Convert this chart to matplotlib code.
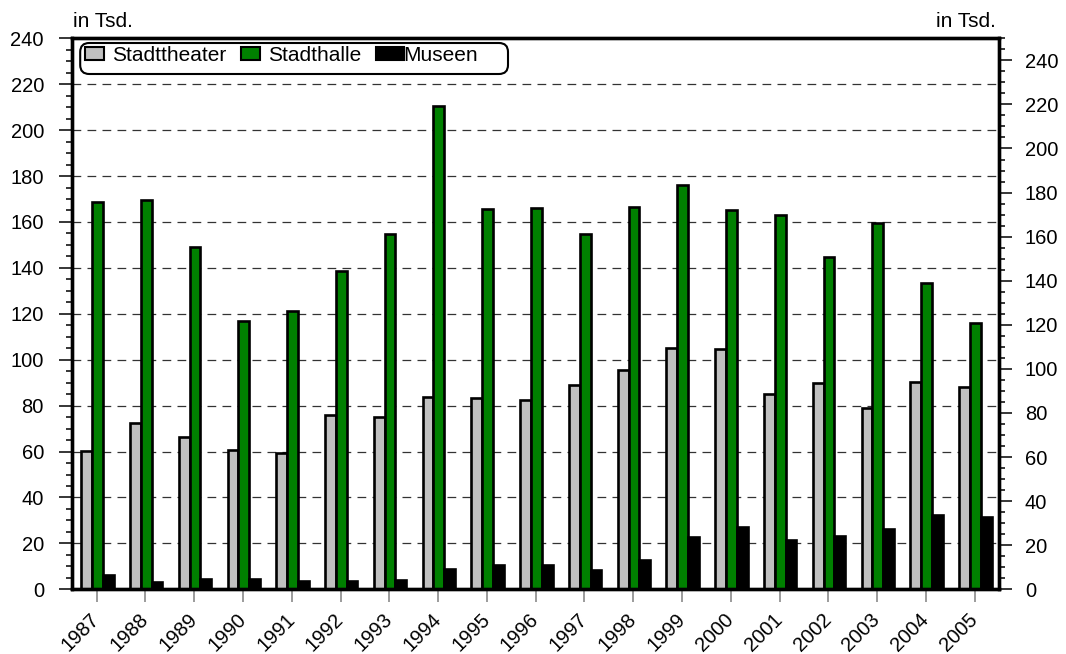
import matplotlib
matplotlib.use("Agg")
import matplotlib.pyplot as plt
import matplotlib.transforms as mtransforms
from matplotlib.patches import FancyBboxPatch, Patch, Rectangle
from matplotlib.legend_handler import HandlerPatch
from matplotlib.ticker import MultipleLocator, FixedLocator
import numpy as np

# Besucher in Tausend
years = [str(y) for y in range(1987, 2006)]
stadttheater = [60.3, 72.3, 66.2, 60.5, 59.2, 75.8, 74.9, 83.6, 83.3, 82.3,
                89.0, 95.7, 105.2, 104.6, 85.2, 89.7, 79.1, 90.3, 88.2]
stadthalle = [168.8, 169.4, 149.3, 116.8, 121.3, 138.8, 154.9, 210.7, 165.5, 166.1,
              154.6, 166.4, 175.9, 165.2, 163.0, 144.9, 159.7, 133.3, 116.1]
museen = [6.2, 3.3, 4.6, 4.3, 3.6, 3.5, 4.1, 9.0, 10.6, 10.6,
          8.4, 12.8, 22.9, 27.0, 21.6, 23.0, 26.4, 32.2, 31.6]
series_names = ["Stadttheater", "Stadthalle", "Museen"]
series_colors = ["#c0c0c0", "#008000", "#000000"]

plt.rcParams["font.family"] = ["Liberation Sans", "DejaVu Sans"]

W, H = 1066, 654
fig = plt.figure(figsize=(W / 100, H / 100), dpi=100)
left_px, right_px, top_px, bottom_px = 72.3, 999.0, 38.3, 589.3
ax = fig.add_axes([left_px / W, 1 - bottom_px / H,
                   (right_px - left_px) / W, (bottom_px - top_px) / H])

x = np.arange(len(years))
bar_w = 0.2215
shift = 0.015
edge_lw = 1.9
for i, (vals, col, name) in enumerate(zip([stadttheater, stadthalle, museen],
                                          series_colors, series_names)):
    ax.bar(x + (i - 1) * bar_w + shift, vals, width=bar_w, color=col,
           edgecolor="black", linewidth=edge_lw, label=name, zorder=2)

ax.set_xlim(-0.5, len(years) - 0.5)
ax.set_ylim(0, 240)
ax.yaxis.set_major_locator(MultipleLocator(20))
ax.yaxis.set_minor_locator(MultipleLocator(5))
ax.grid(axis="y", which="major", color="#333333", linestyle=(0, (7, 5)), linewidth=0.9)
ax.set_axisbelow(True)

ax.set_xticks(x)
ax.set_xticklabels(years, rotation=45, ha="right", va="center", rotation_mode="anchor")
offset = mtransforms.ScaledTranslation(4 / 100, 0, fig.dpi_scale_trans)
for lbl in ax.get_xticklabels():
    lbl.set_transform(lbl.get_transform() + offset)

ax.tick_params(axis="y", which="major", direction="out", length=9.6, width=1.1,
               color="black", labelsize=14.5, pad=10.8)
ax.tick_params(axis="y", which="minor", direction="out", length=4.5, width=1.1, color="black")
ax.tick_params(axis="x", which="major", direction="out", length=9.6, width=1.1,
               color="#808080", labelsize=14.5, pad=10)

# secondary scale on the right
ax2 = ax.twinx()
ax2.set_ylim(0, 250)
ax2.yaxis.set_major_locator(FixedLocator(list(range(0, 241, 20))))
ax2.yaxis.set_minor_locator(MultipleLocator(5))
ax2.tick_params(axis="y", which="major", direction="out", length=9.6, width=1.1,
                color="black", labelsize=14.5, pad=9)
ax2.tick_params(axis="y", which="minor", direction="out", length=4.5, width=1.1, color="black")

for a in (ax, ax2):
    for s in a.spines.values():
        s.set_linewidth(2.4)
        s.set_color("black")

# legend with rounded frame
ax_w = right_px - left_px
ax_h = bottom_px - top_px
box_x0, box_x1, box_y0, box_y1 = 80.2, 508.0, 43.0, 74.0
frame = FancyBboxPatch(((box_x0 - left_px) / ax_w, 1 - (box_y1 - top_px) / ax_h),
                       (box_x1 - box_x0) / ax_w, (box_y1 - box_y0) / ax_h,
                       boxstyle="round,pad=0,rounding_size=%f" % (9 / ax_w),
                       mutation_aspect=ax_w / ax_h,
                       transform=ax.transAxes, facecolor="white", edgecolor="black",
                       linewidth=1.5, clip_on=False, zorder=4)
ax.add_patch(frame)

handles = [Patch(facecolor=c, edgecolor="black", linewidth=1.5, label=n)
           for c, n in zip(series_colors, series_names)]
text_pad = 0.4


def joined_patch(legend, orig_handle, xdescent, ydescent, width, height, fontsize):
    # swatch that runs right up to its label
    return Rectangle((-xdescent, -ydescent), width + text_pad * fontsize, height)


leg = ax.legend(handles=handles,
                handler_map={handles[2]: HandlerPatch(patch_func=joined_patch)},
                loc="upper left", bbox_to_anchor=((85 - left_px) / ax_w, 1 - (46 - top_px) / ax_h),
                ncol=3, frameon=False, fontsize=15, handlelength=0.91, handleheight=0.62,
                handletextpad=text_pad, columnspacing=0.7, borderpad=0, borderaxespad=0)
leg.set_zorder(6)

fig.text(73 / W, 1 - 27 / H, "in Tsd.", fontsize=15, ha="left", va="baseline")
fig.text(996 / W, 1 - 27 / H, "in Tsd.", fontsize=15, ha="right", va="baseline")

fig.savefig("out.png", dpi=100)
